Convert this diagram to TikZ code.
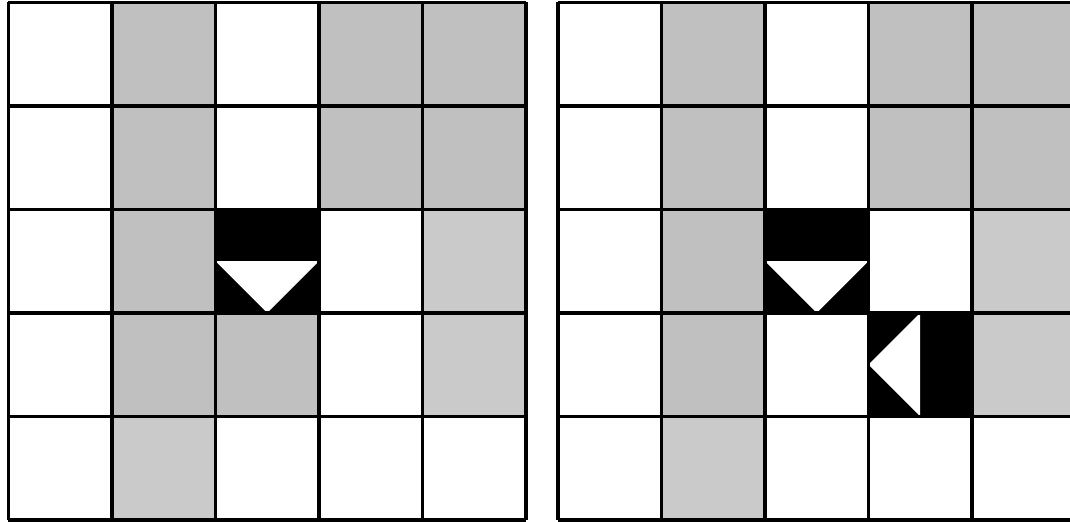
\documentclass[tikz,border=0pt]{standalone}
\usepackage{xcolor}
\usepackage{tikz}
\definecolor{cellgray}{RGB}{192,192,192}
\definecolor{cellpale}{RGB}{202,202,202}

\begin{document}
\begin{tikzpicture}[
  gcell/.style={fill=cellgray},
  pcell/.style={fill=cellpale},
  agent/.style={fill=black},
  facing/.style={fill=white},
  board/.style={line width=1pt, step=1}]
  \useasboundingbox (-0.082,-0.02) rectangle (10.256,5.023);
  % Left board
  \begin{scope}
    \foreach \c/\r in {1/4,3/4,4/4,1/3,3/3,4/3,1/2,1/1,2/1}
      \fill[gcell] (\c,\r) rectangle ++(1,1);
    \foreach \c/\r in {4/2,4/1,1/0}
      \fill[pcell] (\c,\r) rectangle ++(1,1);
    \fill[agent] (2,2) rectangle (3,3);
    \fill[facing] (2,2.5) -- (3,2.5) -- (2.5,2) -- cycle;
    \draw[board] (0,0) grid (5,5);
  \end{scope}
  % Right board
  \begin{scope}[xshift=5.309cm]
    \foreach \c/\r in {1/4,3/4,4/4,1/3,3/3,4/3,1/2,1/1}
      \fill[gcell] (\c,\r) rectangle ++(1,1);
    \foreach \c/\r in {4/2,4/1,1/0}
      \fill[pcell] (\c,\r) rectangle ++(1,1);
    \fill[agent] (2,2) rectangle (3,3);
    \fill[facing] (2,2.5) -- (3,2.5) -- (2.5,2) -- cycle;
    \fill[agent] (3,1) rectangle (4,2);
    \fill[facing] (3.5,2) -- (3.5,1) -- (3,1.5) -- cycle;
    \draw[board] (0,0) grid (5,5);
  \end{scope}
\end{tikzpicture}
\end{document}
